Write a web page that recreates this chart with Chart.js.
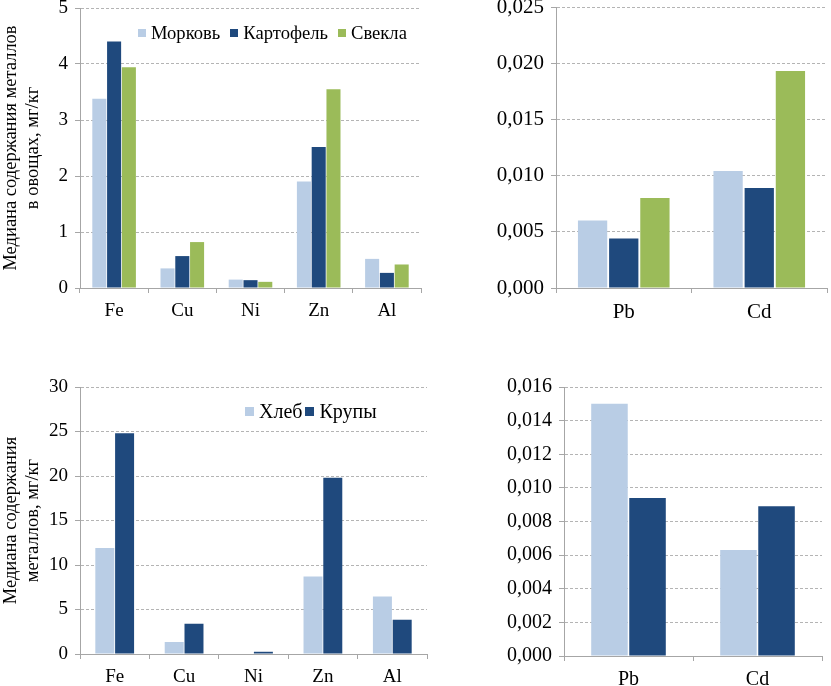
<!DOCTYPE html>
<html>
<head>
<meta charset="utf-8">
<script src="https://cdn.jsdelivr.net/npm/chart.js@4.4.0/dist/chart.umd.min.js"></script>
<style>
body { margin: 0; background: #fff; width: 831px; height: 686px; position: relative; overflow: hidden; font-family: "Liberation Serif", "DejaVu Serif", serif; }
.panel { position: absolute; }
.legend { position: absolute; display: flex; align-items: center; white-space: nowrap; color: #000; }
.legend .box { display: inline-block; }
</style>
</head>
<body>
<div class="panel" style="left:0;top:0;width:430px;height:330px"><canvas id="vegMain"></canvas></div>
<div class="panel" style="left:440px;top:0;width:391px;height:330px"><canvas id="vegTrace"></canvas></div>
<div class="panel" style="left:0;top:370px;width:440px;height:316px"><canvas id="grainMain"></canvas></div>
<div class="panel" style="left:440px;top:370px;width:391px;height:316px"><canvas id="grainTrace"></canvas></div>
<div class="legend" id="vegLegend" style="left:138px;top:22px;font-size:18.6px"></div>
<div class="legend" id="grainLegend" style="left:245px;top:400px;font-size:20px"></div>

<script>
// овощи
var vegMetals = ["Fe", "Cu", "Ni", "Zn", "Al"];
var carrot = [3.38, 0.35, 0.15, 1.9, 0.52];
var potato = [4.4, 0.57, 0.14, 2.52, 0.27];
var beet = [3.94, 0.82, 0.11, 3.55, 0.42];
var vegTicks = [0, 1, 2, 3, 4, 5];

var vegTraceMetals = ["Pb", "Cd"];
var carrotTrace = [0.0060, 0.0104];
var potatoTrace = [0.0044, 0.0089];
var beetTrace = [0.0080, 0.0193];
var vegTraceTicks = [0, 0.005, 0.010, 0.015, 0.020, 0.025];

// хлеб и крупы
var grainMetals = ["Fe", "Cu", "Ni", "Zn", "Al"];
var bread = [11.9, 1.35, 0, 8.7, 6.45];
var cereal = [24.8, 3.4, 0.25, 19.8, 3.85];
var grainTicks = [0, 5, 10, 15, 20, 25, 30];

var grainTraceMetals = ["Pb", "Cd"];
var breadTrace = [0.0150, 0.0063];
var cerealTrace = [0.0094, 0.0089];
var grainTraceTicks = [0, 0.002, 0.004, 0.006, 0.008, 0.010, 0.012, 0.014, 0.016];

var vegNames = ["Морковь", "Картофель", "Свекла"];
var grainNames = ["Хлеб", "Крупы"];
var lightBlue = "#b9cde5";
var darkBlue = "#1f497d";
var green = "#9bbb59";
var serif = "'Liberation Serif', 'DejaVu Serif', serif";

function makeChart(id, labels, series, names, colors, ticks, cfg) {
    var datasets = series.map(function (data, i) {
        return {
            label: names[i],
            data: data,
            backgroundColor: colors[i],
            borderWidth: 0,
            categoryPercentage: cfg.cat,
            barPercentage: cfg.bar
        };
    });
    var dec = cfg.decimals;
    return new Chart(document.getElementById(id), {
        type: "bar",
        data: { labels: labels, datasets: datasets },
        options: {
            responsive: true,
            maintainAspectRatio: false,
            animation: false,
            layout: { padding: { top: cfg.top, right: cfg.right, left: 0, bottom: 0 } },
            plugins: { legend: { display: false }, tooltip: { enabled: false } },
            scales: {
                x: {
                    grid: { drawOnChartArea: false, drawTicks: true, tickLength: 5, color: "#a6a6a6", offset: true },
                    border: { color: "#a6a6a6" },
                    ticks: { color: "#000", padding: 7, font: { family: serif, size: cfg.xFont } },
                    afterFit: function (s) { s.height = cfg.xHeight; s.paddingLeft = 0; s.paddingRight = 0; }
                },
                y: {
                    min: ticks[0],
                    max: ticks[ticks.length - 1],
                    afterBuildTicks: function (s) {
                        s.ticks = ticks.map(function (v) { return { value: v }; });
                    },
                    grid: { color: "#b4b4b4", tickLength: 5, tickColor: "#a6a6a6", tickBorderDash: [] },
                    border: { color: "#a6a6a6", dash: [3, 2] },
                    ticks: {
                        color: "#000",
                        padding: 7,
                        font: { family: serif, size: cfg.yFont },
                        callback: function (v) { return v.toFixed(dec).replace(".", ","); }
                    },
                    title: {
                        display: !!cfg.title,
                        text: cfg.title || "",
                        color: "#000",
                        padding: 0,
                        font: { family: serif, size: 18.5, lineHeight: 1.2 }
                    },
                    afterFit: function (s) { s.width = cfg.yWidth; s.paddingTop = 0; s.paddingBottom = 0; }
                }
            }
        }
    });
}

makeChart("vegMain", vegMetals, [carrot, potato, beet], vegNames, [lightBlue, darkBlue, green], vegTicks, {
    cat: 0.65, bar: 0.95, top: 8, right: 9, xHeight: 42, yWidth: 80, xFont: 19, yFont: 19, decimals: 0,
    title: ["Медиана содержания металлов", "в овощах, мг/кг"]
});
makeChart("vegTrace", vegTraceMetals, [carrotTrace, potatoTrace, beetTrace], vegNames, [lightBlue, darkBlue, green], vegTraceTicks, {
    cat: 0.69, bar: 0.94, top: 7, right: 4, xHeight: 42, yWidth: 116, xFont: 21, yFont: 21, decimals: 3,
    title: null
});
makeChart("grainMain", grainMetals, [bread, cereal], grainNames, [lightBlue, darkBlue], grainTicks, {
    cat: 0.57, bar: 0.96, top: 17, right: 13, xHeight: 32, yWidth: 80, xFont: 19, yFont: 19, decimals: 0,
    title: ["Медиана содержания", "металлов, мг/кг"]
});
makeChart("grainTrace", grainTraceMetals, [breadTrace, cerealTrace], grainNames, [lightBlue, darkBlue], grainTraceTicks, {
    cat: 0.59, bar: 0.96, top: 17, right: 9, xHeight: 30, yWidth: 124, xFont: 20, yFont: 20, decimals: 3,
    title: null
});

function buildLegend(id, names, colors, boxSize, textGap, itemGap) {
    var el = document.getElementById(id);
    names.forEach(function (name, i) {
        var box = document.createElement("span");
        box.className = "box";
        box.style.width = boxSize + "px";
        box.style.height = boxSize + "px";
        box.style.background = colors[i];
        box.style.marginRight = textGap + "px";
        if (i > 0) box.style.marginLeft = itemGap + "px";
        var txt = document.createElement("span");
        txt.textContent = name;
        el.appendChild(box);
        el.appendChild(txt);
    });
}

buildLegend("vegLegend", vegNames, [lightBlue, darkBlue, green], 8, 5, 10);
buildLegend("grainLegend", grainNames, [lightBlue, darkBlue], 9, 5, 3);
</script>
</body>
</html>
